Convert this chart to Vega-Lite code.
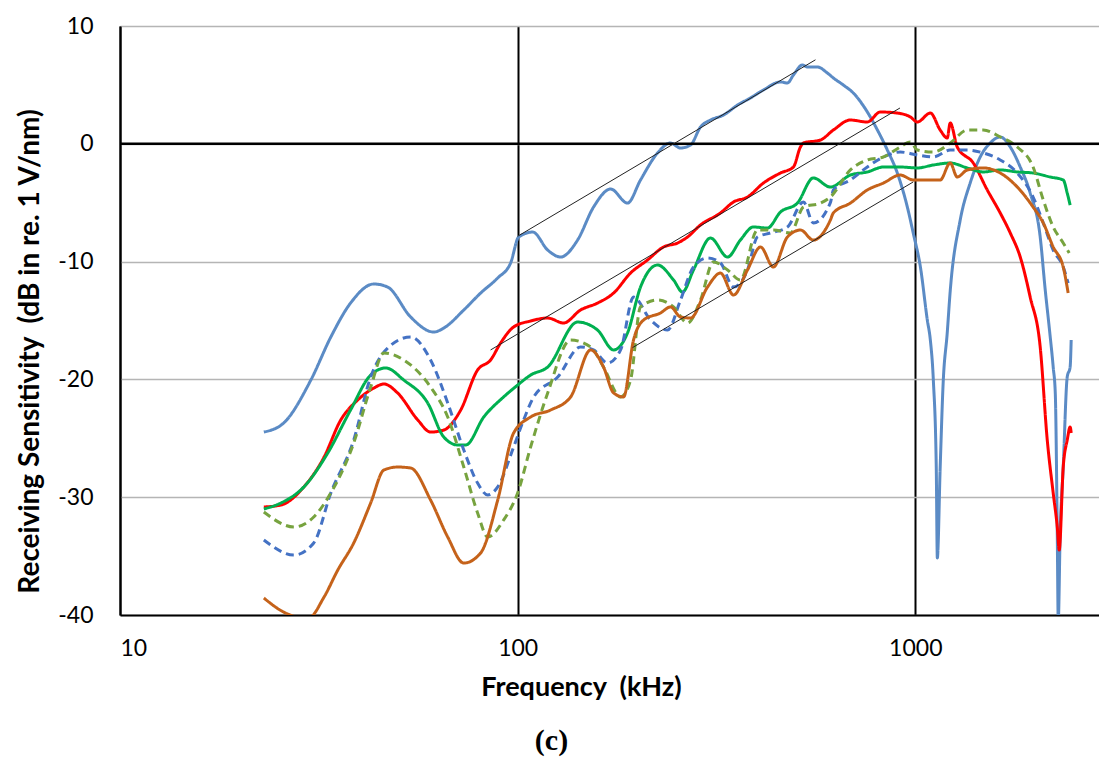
{
  "$schema": "https://vega.github.io/schema/vega-lite/v6.json",
  "width": 979,
  "height": 589,
  "autosize": {"type": "none"},
  "padding": {"left": 120, "top": 26, "right": 0, "bottom": 145},
  "background": "white",
  "config": {"view": {"stroke": null}, "font": "Lato"},
  "title": {"text": "(c)", "orient": "bottom", "anchor": "middle", "dx": -58, "offset": 26, "font": "Liberation Serif", "fontSize": 30, "fontWeight": "bold", "color": "black"},
  "datasets": {
    "curves": [
      {"s":"1B","f":23.0,"v":-24.47},{"s":"1B","f":25.8,"v":-23.70},{"s":"1B","f":30.2,"v":-20.05},{"s":"1B","f":33.9,"v":-16.40},{"s":"1B","f":38.0,"v":-13.52},{"s":"1B","f":43.5,"v":-11.90},{"s":"1B","f":47.1,"v":-12.16},{"s":"1B","f":53.8,"v":-14.70},{"s":"1B","f":61.5,"v":-15.98},{"s":"1B","f":65.2,"v":-15.64},{"s":"1B","f":73.2,"v":-14.11},{"s":"1B","f":80.7,"v":-12.67},{"s":"1B","f":89.1,"v":-11.39},{"s":"1B","f":96.0,"v":-10.12},{"s":"1B","f":100.6,"v":-7.91},{"s":"1B","f":109.1,"v":-7.49},{"s":"1B","f":119,"v":-9.02},{"s":"1B","f":128.2,"v":-9.61},{"s":"1B","f":141.5,"v":-8.17},{"s":"1B","f":155.2,"v":-5.37},{"s":"1B","f":171.3,"v":-3.84},{"s":"1B","f":188.9,"v":-5.03},{"s":"1B","f":203.7,"v":-3.07},{"s":"1B","f":224.8,"v":-0.78},{"s":"1B","f":242.3,"v":0.07},{"s":"1B","f":256.8,"v":-0.36},{"s":"1B","f":272.2,"v":-0.10},{"s":"1B","f":288.3,"v":1.43},{"s":"1B","f":305.5,"v":2.02},{"s":"1B","f":329.3,"v":2.44},{"s":"1B","f":357.2,"v":3.29},{"s":"1B","f":384.9,"v":3.89},{"s":"1B","f":415,"v":4.57},{"s":"1B","f":458.1,"v":5.25},{"s":"1B","f":476.9,"v":5.16},{"s":"1B","f":493.7,"v":5.84},{"s":"1B","f":520.3,"v":6.69},{"s":"1B","f":535.5,"v":6.52},{"s":"1B","f":567.3,"v":6.52},{"s":"1B","f":601,"v":6.01},{"s":"1B","f":622.2,"v":5.59},{"s":"1B","f":659.2,"v":4.99},{"s":"1B","f":698.5,"v":4.31},{"s":"1B","f":757.5,"v":2.70},{"s":"1B","f":803,"v":1.17},{"s":"1B","f":850.6,"v":-0.53},{"s":"1B","f":901.1,"v":-2.48},{"s":"1B","f":955,"v":-5.37},{"s":"1B","f":988,"v":-7.57},{"s":"1B","f":1030,"v":-10.46},{"s":"1B","f":1072,"v":-14.96},{"s":"1B","f":1091,"v":-16.66},{"s":"1B","f":1110,"v":-20.05},{"s":"1B","f":1129,"v":-27.44},{"s":"1B","f":1136,"v":-35.16},{"s":"1B","f":1155,"v":-27.44},{"s":"1B","f":1175,"v":-20.31},{"s":"1B","f":1203,"v":-16.06},{"s":"1B","f":1224,"v":-12.5},{"s":"1B","f":1297,"v":-6.47},{"s":"1B","f":1374,"v":-3.33},{"s":"1B","f":1456,"v":-1.12},{"s":"1B","f":1543,"v":0.07},{"s":"1B","f":1635,"v":0.58},{"s":"1B","f":1733,"v":-0.27},{"s":"1B","f":1836,"v":-1.97},{"s":"1B","f":1945,"v":-4.18},{"s":"1B","f":2061,"v":-7.91},{"s":"1B","f":2122,"v":-12.41},{"s":"1B","f":2171,"v":-15.55},{"s":"1B","f":2222,"v":-18.95},{"s":"1B","f":2249,"v":-21.15},{"s":"1B","f":2275,"v":-33.0},{"s":"1B","f":2288,"v":-40.5},{"s":"1B","f":2314,"v":-33.0},{"s":"1B","f":2355,"v":-27.44},{"s":"1B","f":2410,"v":-19.80},{"s":"1B","f":2451,"v":-18.95},{"s":"1B","f":2466,"v":-16.66},

      {"s":"2R","f":23.0,"v":-30.83},{"s":"2R","f":25.4,"v":-30.66},{"s":"2R","f":29.0,"v":-29.13},{"s":"2R","f":32.6,"v":-26.59},{"s":"2R","f":35.9,"v":-23.45},{"s":"2R","f":39.6,"v":-21.75},{"s":"2R","f":43.5,"v":-20.73},{"s":"2R","f":46.1,"v":-20.39},{"s":"2R","f":49.9,"v":-21.15},{"s":"2R","f":56.1,"v":-23.45},{"s":"2R","f":60.4,"v":-24.47},{"s":"2R","f":65.2,"v":-24.30},{"s":"2R","f":71.9,"v":-22.60},{"s":"2R","f":79.3,"v":-19.20},{"s":"2R","f":85.5,"v":-18.35},{"s":"2R","f":90.6,"v":-16.91},{"s":"2R","f":97.7,"v":-15.55},{"s":"2R","f":107.8,"v":-15.04},{"s":"2R","f":119,"v":-14.79},{"s":"2R","f":130.5,"v":-15.21},{"s":"2R","f":143.9,"v":-14.11},{"s":"2R","f":158.8,"v":-13.52},{"s":"2R","f":174.3,"v":-12.67},{"s":"2R","f":192.3,"v":-10.97},{"s":"2R","f":212.2,"v":-9.86},{"s":"2R","f":232.7,"v":-8.76},{"s":"2R","f":252.5,"v":-8.42},{"s":"2R","f":267.5,"v":-7.91},{"s":"2R","f":288.3,"v":-6.89},{"s":"2R","f":323.6,"v":-5.87},{"s":"2R","f":349,"v":-4.94},{"s":"2R","f":378.4,"v":-4.52},{"s":"2R","f":415,"v":-3.33},{"s":"2R","f":458.1,"v":-2.48},{"s":"2R","f":493.7,"v":-1.97},{"s":"2R","f":514.2,"v":-0.27},{"s":"2R","f":523.2,"v":0.07},{"s":"2R","f":577.4,"v":0.32},{"s":"2R","f":622.2,"v":1.17},{"s":"2R","f":686.7,"v":2.02},{"s":"2R","f":757.5,"v":1.85},{"s":"2R","f":816.6,"v":2.70},{"s":"2R","f":901.1,"v":2.61},{"s":"2R","f":971.5,"v":2.28},{"s":"2R","f":1012,"v":1.85},{"s":"2R","f":1091,"v":2.61},{"s":"2R","f":1155,"v":1.17},{"s":"2R","f":1203,"v":0.49},{"s":"2R","f":1224,"v":1.77},{"s":"2R","f":1275,"v":-0.27},{"s":"2R","f":1399,"v":-1.63},{"s":"2R","f":1517,"v":-3.92},{"s":"2R","f":1635,"v":-5.87},{"s":"2R","f":1733,"v":-7.57},{"s":"2R","f":1836,"v":-9.61},{"s":"2R","f":1945,"v":-13.01},{"s":"2R","f":2061,"v":-17.25},{"s":"2R","f":2147,"v":-25.15},{"s":"2R","f":2222,"v":-29.64},{"s":"2R","f":2275,"v":-32.53},{"s":"2R","f":2301,"v":-34.48},{"s":"2R","f":2355,"v":-27.44},{"s":"2R","f":2410,"v":-25.15},{"s":"2R","f":2451,"v":-24.04},{"s":"2R","f":2466,"v":-24.55},

      {"s":"3G","f":23.0,"v":-31.00},{"s":"3G","f":25.4,"v":-30.49},{"s":"3G","f":29.0,"v":-29.13},{"s":"3G","f":33.3,"v":-26.25},{"s":"3G","f":38.0,"v":-22.60},{"s":"3G","f":42.7,"v":-19.63},{"s":"3G","f":46.6,"v":-19.03},{"s":"3G","f":51.7,"v":-20.05},{"s":"3G","f":59.4,"v":-22.00},{"s":"3G","f":65.2,"v":-24.89},{"s":"3G","f":70.7,"v":-25.57},{"s":"3G","f":74.0,"v":-25.57},{"s":"3G","f":82.2,"v":-23.19},{"s":"3G","f":92.2,"v":-21.49},{"s":"3G","f":100,"v":-20.48},{"s":"3G","f":107.8,"v":-19.63},{"s":"3G","f":119,"v":-18.95},{"s":"3G","f":141.5,"v":-15.13},{"s":"3G","f":158.8,"v":-15.81},{"s":"3G","f":174.3,"v":-17.50},{"s":"3G","f":188.9,"v":-16.06},{"s":"3G","f":203.7,"v":-12.16},{"s":"3G","f":224.8,"v":-10.29},{"s":"3G","f":246.6,"v":-11.56},{"s":"3G","f":259.8,"v":-12.58},{"s":"3G","f":276.8,"v":-10.71},{"s":"3G","f":305.5,"v":-8.00},{"s":"3G","f":337.2,"v":-9.61},{"s":"3G","f":363.2,"v":-8.17},{"s":"3G","f":391.5,"v":-7.06},{"s":"3G","f":424.7,"v":-7.15},{"s":"3G","f":458.1,"v":-5.79},{"s":"3G","f":505.3,"v":-5.03},{"s":"3G","f":554.1,"v":-2.90},{"s":"3G","f":611.5,"v":-3.67},{"s":"3G","f":686.7,"v":-2.65},{"s":"3G","f":757.5,"v":-2.39},{"s":"3G","f":831.2,"v":-1.97},{"s":"3G","f":916.4,"v":-1.97},{"s":"3G","f":1012,"v":-2.05},{"s":"3G","f":1110,"v":-1.80},{"s":"3G","f":1224,"v":-1.63},{"s":"3G","f":1351,"v":-2.05},{"s":"3G","f":1482,"v":-2.39},{"s":"3G","f":1635,"v":-2.22},{"s":"3G","f":1805,"v":-2.39},{"s":"3G","f":1978,"v":-2.48},{"s":"3G","f":2184,"v":-2.82},{"s":"3G","f":2355,"v":-3.07},{"s":"3G","f":2410,"v":-4.18},{"s":"3G","f":2451,"v":-5.20},

      {"s":"4BD","f":23.0,"v":-33.63},{"s":"4BD","f":27.4,"v":-34.91},{"s":"4BD","f":30.7,"v":-33.89},{"s":"4BD","f":33.9,"v":-29.64},{"s":"4BD","f":38.7,"v":-25.15},{"s":"4BD","f":42.7,"v":-19.80},{"s":"4BD","f":47.1,"v":-17.34},{"s":"4BD","f":53.8,"v":-16.40},{"s":"4BD","f":60.4,"v":-18.35},{"s":"4BD","f":66.7,"v":-22.00},{"s":"4BD","f":73.2,"v":-25.99},{"s":"4BD","f":79.3,"v":-28.80},{"s":"4BD","f":84.1,"v":-29.81},{"s":"4BD","f":89.1,"v":-29.13},{"s":"4BD","f":97.7,"v":-25.74},{"s":"4BD","f":103.5,"v":-23.45},{"s":"4BD","f":109.7,"v":-21.5},{"s":"4BD","f":126.1,"v":-19.80},{"s":"4BD","f":143.9,"v":-17.25},{"s":"4BD","f":155.2,"v":-17.50},{"s":"4BD","f":168.3,"v":-18.61},{"s":"4BD","f":181.5,"v":-17.50},{"s":"4BD","f":195.6,"v":-13.01},{"s":"4BD","f":215.9,"v":-14.96},{"s":"4BD","f":238.2,"v":-15.81},{"s":"4BD","f":256.8,"v":-13.26},{"s":"4BD","f":276.8,"v":-10.46},{"s":"4BD","f":300.2,"v":-9.69},{"s":"4BD","f":323.6,"v":-10.12},{"s":"4BD","f":349.0,"v":-12.16},{"s":"4BD","f":378.4,"v":-10.71},{"s":"4BD","f":400.8,"v":-7.91},{"s":"4BD","f":432.3,"v":-7.57},{"s":"4BD","f":476.9,"v":-7.06},{"s":"4BD","f":523.2,"v":-4.94},{"s":"4BD","f":554.1,"v":-6.72},{"s":"4BD","f":611.5,"v":-5.0},{"s":"4BD","f":622.2,"v":-3.92},{"s":"4BD","f":686.7,"v":-3.07},{"s":"4BD","f":757.5,"v":-1.97},{"s":"4BD","f":831.2,"v":-1.12},{"s":"4BD","f":916.4,"v":-0.70},{"s":"4BD","f":1012,"v":-0.95},{"s":"4BD","f":1110,"v":-1.12},{"s":"4BD","f":1224,"v":-0.53},{"s":"4BD","f":1351,"v":-0.53},{"s":"4BD","f":1482,"v":-0.78},{"s":"4BD","f":1635,"v":-1.37},{"s":"4BD","f":1805,"v":-2.48},{"s":"4BD","f":1978,"v":-4.52},{"s":"4BD","f":2098,"v":-6.72},{"s":"4BD","f":2222,"v":-9.02},{"s":"4BD","f":2355,"v":-10.46},{"s":"4BD","f":2423,"v":-11.82},

      {"s":"5GD","f":23.0,"v":-31.26},{"s":"5GD","f":27.4,"v":-32.53},{"s":"5GD","f":30.7,"v":-31.68},{"s":"5GD","f":33.9,"v":-29.64},{"s":"5GD","f":38.7,"v":-25.40},{"s":"5GD","f":42.7,"v":-20.65},{"s":"5GD","f":46.1,"v":-17.76},{"s":"5GD","f":51.7,"v":-18.35},{"s":"5GD","f":60.4,"v":-20.65},{"s":"5GD","f":66.7,"v":-23.19},{"s":"5GD","f":73.2,"v":-27.44},{"s":"5GD","f":79.3,"v":-31.34},{"s":"5GD","f":84.1,"v":-33.38},{"s":"5GD","f":92.2,"v":-31.94},{"s":"5GD","f":100,"v":-29.64},{"s":"5GD","f":107.8,"v":-25.74},{"s":"5GD","f":119,"v":-21.15},{"s":"5GD","f":135.9,"v":-16.66},{"s":"5GD","f":152.6,"v":-17.25},{"s":"5GD","f":164.4,"v":-18.95},{"s":"5GD","f":181.5,"v":-21.49},{"s":"5GD","f":192.3,"v":-20.05},{"s":"5GD","f":203.7,"v":-13.85},{"s":"5GD","f":224.8,"v":-13.26},{"s":"5GD","f":246.6,"v":-13.85},{"s":"5GD","f":267.5,"v":-15.21},{"s":"5GD","f":288.3,"v":-13.26},{"s":"5GD","f":310.7,"v":-10.03},{"s":"5GD","f":337.2,"v":-10.71},{"s":"5GD","f":363.2,"v":-11.56},{"s":"5GD","f":400.8,"v":-7.32},{"s":"5GD","f":439.7,"v":-7.32},{"s":"5GD","f":485.1,"v":-7.57},{"s":"5GD","f":523.2,"v":-5.37},{"s":"5GD","f":577.4,"v":-5.03},{"s":"5GD","f":611.5,"v":-4.52},{"s":"5GD","f":686.7,"v":-2.22},{"s":"5GD","f":757.5,"v":-1.37},{"s":"5GD","f":831.2,"v":-1.12},{"s":"5GD","f":916.4,"v":-0.27},{"s":"5GD","f":971.5,"v":0.15},{"s":"5GD","f":1012,"v":-0.53},{"s":"5GD","f":1110,"v":-0.70},{"s":"5GD","f":1224,"v":0.07},{"s":"5GD","f":1351,"v":1.17},{"s":"5GD","f":1482,"v":1.17},{"s":"5GD","f":1635,"v":0.58},{"s":"5GD","f":1805,"v":-0.27},{"s":"5GD","f":1978,"v":-1.97},{"s":"5GD","f":2098,"v":-4.77},{"s":"5GD","f":2222,"v":-7.06},{"s":"5GD","f":2355,"v":-8.42},{"s":"5GD","f":2438,"v":-9.27},

      {"s":"6O","f":23.0,"v":-38.56},{"s":"6O","f":25.8,"v":-39.75},{"s":"6O","f":29.7,"v":-40.3},{"s":"6O","f":32.6,"v":-38.47},{"s":"6O","f":35.3,"v":-36.18},{"s":"6O","f":38.7,"v":-33.89},{"s":"6O","f":42.7,"v":-30.49},{"s":"6O","f":46.1,"v":-27.69},{"s":"6O","f":49.9,"v":-27.44},{"s":"6O","f":53.8,"v":-27.52},{"s":"6O","f":60.4,"v":-30.24},{"s":"6O","f":66.7,"v":-33.38},{"s":"6O","f":73.2,"v":-35.59},{"s":"6O","f":80.7,"v":-34.74},{"s":"6O","f":89.1,"v":-30.24},{"s":"6O","f":97.7,"v":-24.55},{"s":"6O","f":107.8,"v":-23.19},{"s":"6O","f":121,"v":-22.6},{"s":"6O","f":135.9,"v":-21.49},{"s":"6O","f":152.6,"v":-17.50},{"s":"6O","f":164.4,"v":-18.95},{"s":"6O","f":174.3,"v":-21.15},{"s":"6O","f":184.6,"v":-21.49},{"s":"6O","f":195.6,"v":-16.66},{"s":"6O","f":207.3,"v":-14.96},{"s":"6O","f":228.6,"v":-14.36},{"s":"6O","f":242.3,"v":-13.85},{"s":"6O","f":256.8,"v":-14.70},{"s":"6O","f":272.2,"v":-14.79},{"s":"6O","f":300.2,"v":-12.16},{"s":"6O","f":323.6,"v":-10.97},{"s":"6O","f":349.0,"v":-12.84},{"s":"6O","f":378.4,"v":-10.71},{"s":"6O","f":408.0,"v":-8.76},{"s":"6O","f":439.7,"v":-10.46},{"s":"6O","f":476.9,"v":-7.91},{"s":"6O","f":514.2,"v":-7.32},{"s":"6O","f":554.1,"v":-8.17},{"s":"6O","f":611.5,"v":-6.47},{"s":"6O","f":622.2,"v":-5.87},{"s":"6O","f":686.7,"v":-5.03},{"s":"6O","f":757.5,"v":-3.92},{"s":"6O","f":831.2,"v":-3.33},{"s":"6O","f":916.4,"v":-2.65},{"s":"6O","f":988,"v":-3.07},{"s":"6O","f":1072,"v":-3.07},{"s":"6O","f":1155,"v":-3.07},{"s":"6O","f":1224,"v":-1.63},{"s":"6O","f":1275,"v":-2.82},{"s":"6O","f":1351,"v":-2.22},{"s":"6O","f":1482,"v":-2.05},{"s":"6O","f":1635,"v":-2.48},{"s":"6O","f":1805,"v":-3.67},{"s":"6O","f":1978,"v":-5.37},{"s":"6O","f":2098,"v":-6.72},{"s":"6O","f":2222,"v":-8.76},{"s":"6O","f":2355,"v":-10.46},{"s":"6O","f":2423,"v":-12.67}
    ],
    "refs": [
      {"s":"L1","f":100,"v":-7.85},{"s":"L1","f":561,"v":7.13},
      {"s":"L2","f":85.5,"v":-17.5},{"s":"L2","f":915,"v":3.04},
      {"s":"L3","f":194.5,"v":-17.3},{"s":"L3","f":988,"v":-3.24}
    ],
    "zero": [{"v": 0}]
  },
  "layer": [
    {
      "data": {"name": "curves"},
      "mark": {"type": "line", "strokeWidth": 3, "interpolate": "monotone", "clip": true},
      "encoding": {
        "x": {"field": "f", "type": "quantitative",
              "scale": {"type": "log", "domain": [10, 2897], "nice": false},
              "axis": {"values": [10, 100, 1000], "labelExpr": "datum.value + ''", "grid": true, "gridColor": "black", "gridWidth": 2,
                       "domainColor": "black", "domainWidth": 2, "ticks": false, "labelFontSize": 23, "labelColor": "black",
                       "labelPadding": 22, "labelFlush": true, "title": "Frequency\u00a0 (kHz)", "titleFontSize": 27,
                       "titleFontWeight": "bold", "titleColor": "black", "titleX": 461, "titleY": 80, "titleBaseline": "alphabetic", "titleAnchor": "middle"}},
        "y": {"field": "v", "type": "quantitative",
              "scale": {"domain": [-40, 10], "nice": false},
              "axis": {"values": [-40, -30, -20, -10, 0, 10], "labelExpr": "datum.value + ''", "grid": true, "gridColor": "#B5B5B5", "gridWidth": 1.5,
                       "domainColor": "black", "domainWidth": 2, "ticks": false, "labelFontSize": 23, "labelColor": "black",
                       "labelPadding": 27, "title": "Receiving Sensitivity\u00a0 (dB in re. 1 V/nm)", "titleFontSize": 28,
                       "titleFontWeight": "bold", "titleColor": "black", "titleX": -90, "titleY": 325, "titleAngle": -90,
                       "titleAlign": "center", "titleBaseline": "middle"}},
        "color": {"field": "s", "type": "nominal", "legend": null,
                  "scale": {"domain": ["1B", "2R", "3G", "4BD", "5GD", "6O"],
                            "range": ["#5B8BC5", "#FF0000", "#00B050", "#4472C4", "#77A33F", "#C5621A"]}},
        "strokeDash": {"field": "s", "type": "nominal", "legend": null,
                       "scale": {"domain": ["1B", "2R", "3G", "4BD", "5GD", "6O"],
                                 "range": [[1, 0], [1, 0], [1, 0], [8, 5], [8, 5], [1, 0]]}}
      }
    },
    {
      "data": {"name": "zero"},
      "mark": {"type": "rule", "color": "black", "strokeWidth": 2.5},
      "encoding": {"y": {"field": "v", "type": "quantitative"}}
    },
    {
      "data": {"name": "refs"},
      "mark": {"type": "line", "strokeWidth": 1, "color": "#222222"},
      "encoding": {
        "x": {"field": "f", "type": "quantitative"},
        "y": {"field": "v", "type": "quantitative"},
        "detail": {"field": "s", "type": "nominal"}
      }
    }
  ]
}
